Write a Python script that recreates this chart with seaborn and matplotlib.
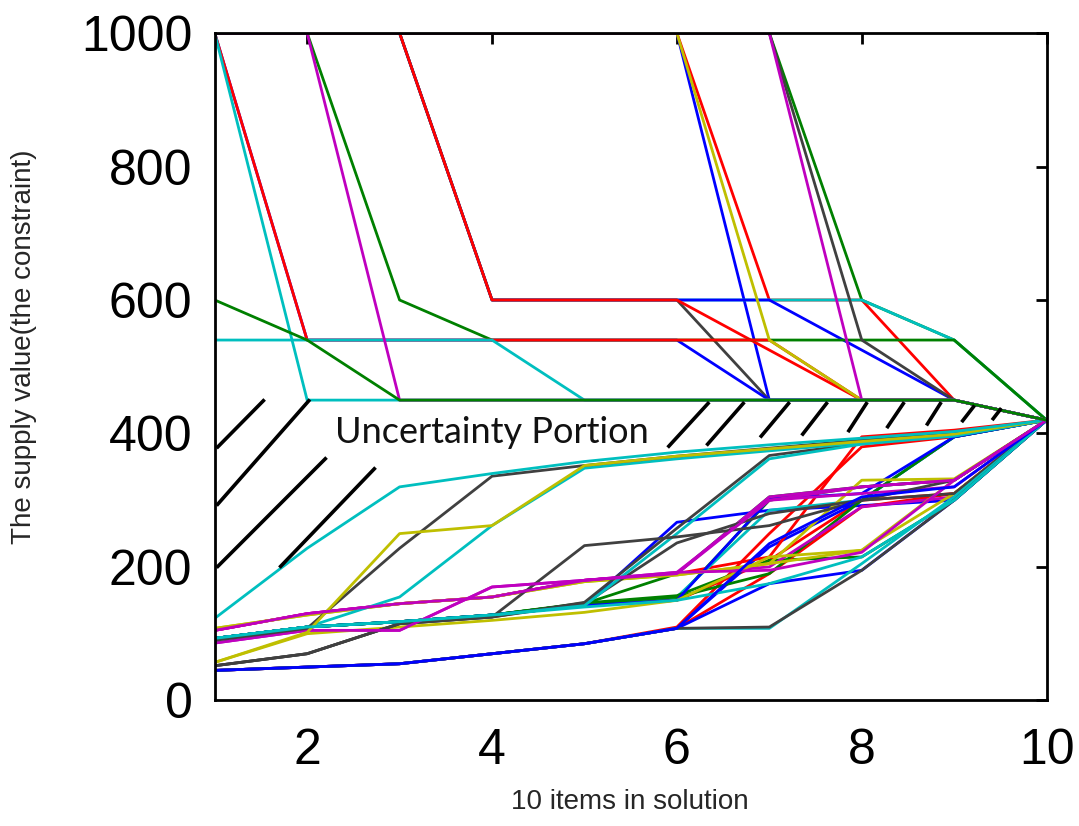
import numpy as np
import pandas as pd
import seaborn as sns
import matplotlib.pyplot as plt

# =======================
# Data
# =======================
items = [1, 2, 3, 4, 5, 6, 7, 8, 9, 10]

# MATLAB-like colour codes
cmap = {'b': '#0000FF', 'g': '#008000', 'r': '#FF0000', 'c': '#00BFBF',
        'm': '#BF00BF', 'y': '#BFBF00', 'k': '#404040'}

# solutions that start above the constraint (drawn in this order)
upper_values = [
    [1000, 1000, 1000, 1000, 1000, 1000, 450, 450, 450, 420],
    [1000, 1000, 1000, 1000, 1000, 1000, 600, 600, 450, 420],
    [1000, 1000, 1000, 1000, 1000, 1000, 1000, 600, 540, 420],
    [1000, 1000, 1000, 600, 600, 600, 600, 600, 540, 420],
    [1000, 1000, 1000, 600, 600, 600, 600, 525, 450, 420],
    [1000, 1000, 1000, 600, 600, 600, 450, 450, 450, 420],
    [1000, 1000, 1000, 600, 600, 600, 525, 450, 450, 420],
    [1000, 540, 540, 540, 540, 540, 450, 450, 450, 420],
    [1000, 1000, 600, 540, 540, 540, 540, 540, 540, 420],
    [1000, 540, 540, 540, 540, 540, 540, 450, 450, 420],
    [540, 540, 540, 540, 450, 450, 450, 450, 450, 420],
    [1000, 1000, 1000, 1000, 1000, 1000, 540, 450, 450, 420],
    [1000, 1000, 1000, 1000, 1000, 1000, 1000, 540, 450, 420],
    [1000, 1000, 1000, 1000, 1000, 1000, 1000, 450, 450, 420],
    [1000, 450, 450, 450, 450, 450, 450, 450, 450, 420],
    [1000, 1000, 450, 450, 450, 450, 450, 450, 450, 420],
    [600, 540, 450, 450, 450, 450, 450, 450, 450, 420],
]
upper_colors = ['b', 'r', 'g', 'c', 'b', 'k', 'r', 'b', 'g', 'r',
                'c', 'y', 'k', 'm', 'c', 'm', 'g']

# solutions that start below the constraint (drawn in this order)
lower_values = [
    [93, 110, 118, 128, 145, 152, 300, 320, 330, 420],
    [93, 110, 118, 128, 142, 150, 210, 300, 310, 420],
    [45, 50, 55, 70, 85, 110, 250, 380, 395, 420],
    [45, 50, 55, 70, 85, 108, 230, 300, 395, 420],
    [93, 110, 118, 128, 145, 190, 305, 320, 330, 420],
    [93, 110, 118, 128, 142, 267, 285, 292, 300, 420],
    [105, 130, 145, 155, 180, 190, 215, 395, 405, 420],
    [93, 110, 118, 128, 145, 155, 285, 300, 395, 420],
    [93, 110, 118, 128, 146, 157, 210, 215, 300, 420],
    [45, 50, 55, 70, 85, 108, 190, 290, 310, 420],
    [93, 110, 118, 128, 145, 155, 190, 300, 395, 420],
    [93, 110, 118, 128, 142, 150, 302, 310, 395, 420],
    [45, 50, 55, 70, 85, 108, 175, 195, 300, 420],
    [105, 130, 145, 155, 180, 190, 305, 320, 330, 420],
    [105, 130, 145, 155, 180, 190, 200, 290, 305, 420],
    [108, 128, 145, 155, 178, 188, 205, 330, 332, 420],
    [108, 128, 145, 155, 178, 188, 205, 225, 330, 420],
    [86, 105, 105, 170, 180, 192, 300, 310, 320, 420],
    [57, 100, 110, 120, 132, 150, 215, 225, 310, 420],
    [52, 70, 115, 125, 145, 236, 280, 300, 310, 420],
    [52, 70, 115, 125, 147, 258, 367, 385, 398, 420],
    [93, 110, 118, 128, 142, 250, 362, 384, 396, 420],
    [52, 70, 115, 125, 232, 245, 262, 300, 330, 420],
    [45, 50, 55, 70, 85, 108, 108, 205, 305, 420],
    [45, 50, 55, 70, 85, 108, 110, 195, 300, 420],
    [86, 105, 105, 170, 180, 192, 195, 222, 330, 420],
    [93, 110, 155, 262, 348, 362, 374, 386, 397, 420],
    [90, 108, 228, 336, 352, 366, 378, 390, 400, 420],
    [57, 102, 250, 262, 352, 366, 377, 388, 399, 420],
    [123, 228, 320, 340, 358, 372, 383, 393, 403, 420],
    [93, 110, 118, 128, 140, 150, 175, 215, 300, 420],
    [45, 50, 55, 70, 85, 108, 235, 305, 320, 420],
    [105, 130, 145, 155, 180, 190, 300, 320, 330, 420],
]
lower_colors = ['g', 'r', 'r', 'b', 'g', 'b', 'r', 'c', 'g', 'r',
                'g', 'b', 'b', 'm', 'm', 'y', 'y', 'm', 'y', 'k',
                'k', 'c', 'k', 'c', 'k', 'm', 'c', 'k', 'y', 'c',
                'c', 'b', 'm']

# hand-drawn hatching of the uncertainty portion: (x0, y0, x1, y1)
hatch_segments = [
    (1.02, 378, 1.54, 451), (1.02, 292, 2.03, 451),
    (1.02, 199, 2.21, 364), (1.70, 199, 2.74, 349),
    (5.90, 379, 6.35, 447), (6.32, 382, 6.73, 447),
    (6.90, 394, 7.22, 447), (7.35, 397, 7.63, 447),
    (7.85, 402, 8.06, 447), (8.27, 408, 8.46, 447),
    (8.70, 412, 8.86, 447), (9.08, 417, 9.22, 442),
    (9.41, 420, 9.51, 438),
]

# =======================
# Long-form table
# =======================
rows = []
all_values = lower_values + upper_values
all_colors = lower_colors + upper_colors
for i, vals in enumerate(all_values):
    for x, v in zip(items, vals):
        rows.append({'item': x, 'supply': v, 'line': i})
df = pd.DataFrame(rows)
palette = {i: cmap[c] for i, c in enumerate(all_colors)}

# =======================
# Plot
# =======================
sns.set_style('white')
plt.rcParams['font.family'] = ['Liberation Sans', 'DejaVu Sans']

fig, ax = plt.subplots(figsize=(10.79, 8.26), dpi=100)
fig.subplots_adjust(left=0.199, right=0.970, top=0.960, bottom=0.152)

sns.lineplot(data=df, x='item', y='supply', hue='line', palette=palette,
             estimator=None, sort=False, legend=False, linewidth=2.0, ax=ax)

for x0, y0, x1, y1 in hatch_segments:
    ax.plot([x0, x1], [y0, y1], color='black', linewidth=2.6,
            solid_capstyle='butt', zorder=3)

ax.text(2.30, 385, 'Uncertainty Portion', fontsize=26,
        family=['Lato', 'DejaVu Sans'], color='#111111', va='baseline')

ax.set_xlim(1, 10)
ax.set_ylim(0, 1000)
ax.set_xticks([2, 4, 6, 8, 10])
ax.set_yticks([0, 200, 400, 600, 800, 1000])
ax.tick_params(axis='both', which='both', direction='in', length=8, width=2,
               top=True, right=True, labelsize=36, colors='black')
ax.tick_params(axis='x', pad=20)
ax.tick_params(axis='y', pad=16)
for s in ax.spines.values():
    s.set_visible(True)
    s.set_color('black')
    s.set_linewidth(2)

ax.set_xlabel('')
ax.set_ylabel('')
fig.text(0.584, 0.013, '10 items in solution', fontsize=20,
         ha='center', va='bottom')
fig.text(0.022, 0.58, 'The supply value(the constraint)', fontsize=20,
         rotation=90, ha='center', va='center')

plt.savefig('out.png', dpi=100)
plt.close()
